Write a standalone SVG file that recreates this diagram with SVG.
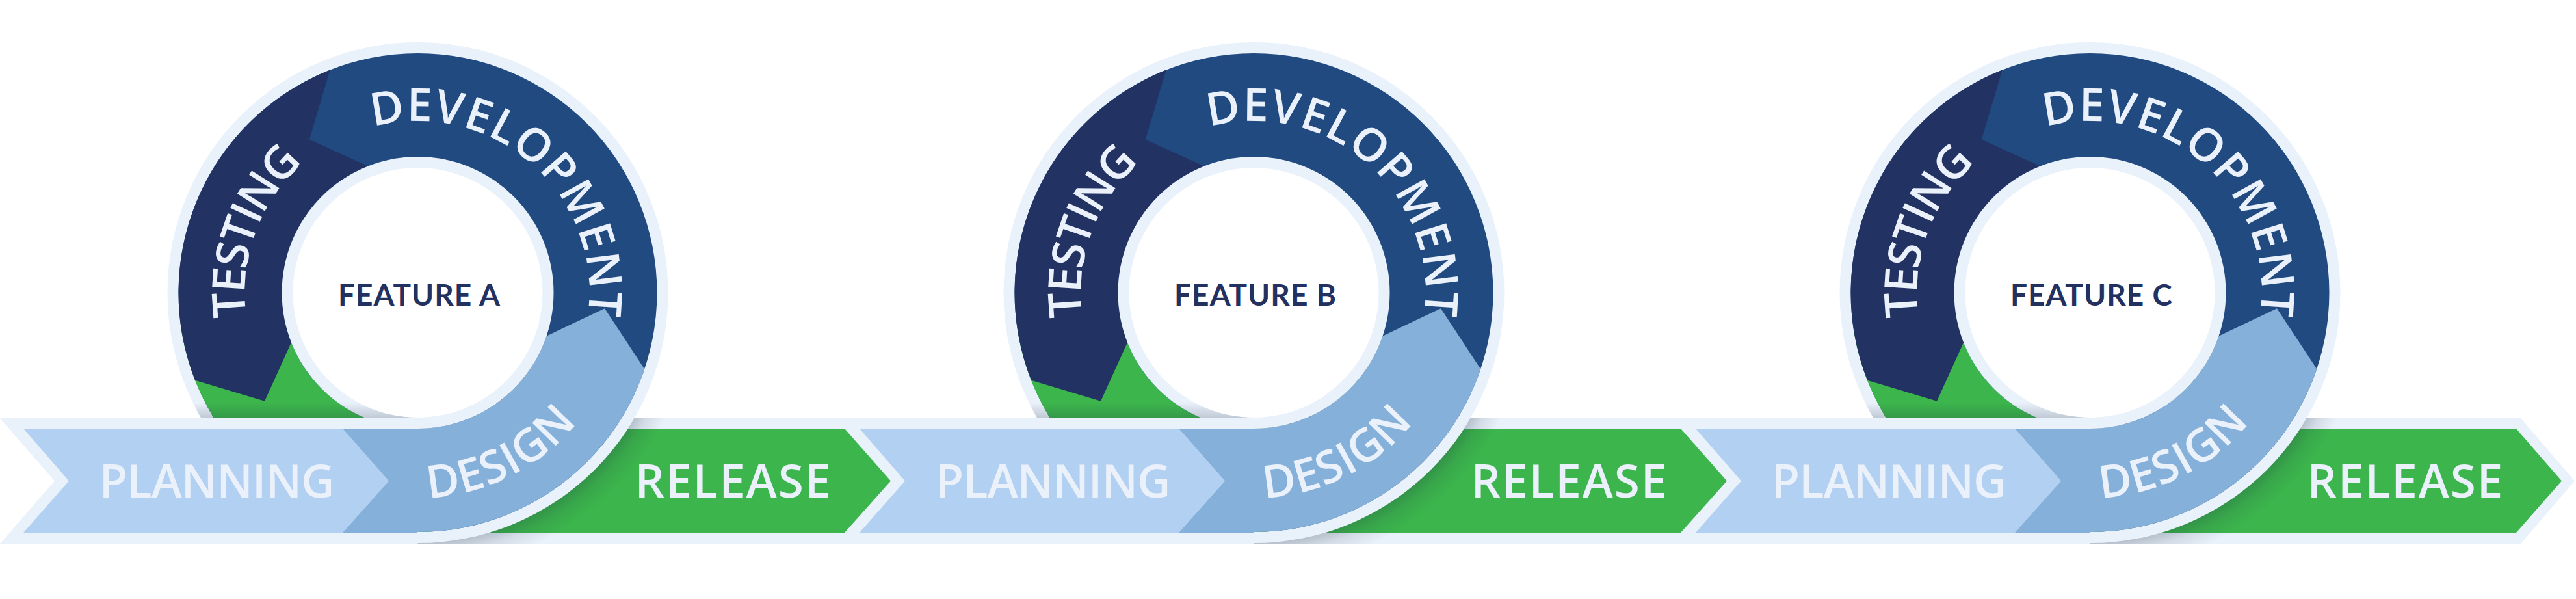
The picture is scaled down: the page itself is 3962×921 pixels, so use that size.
<svg xmlns="http://www.w3.org/2000/svg" xmlns:xlink="http://www.w3.org/1999/xlink" width="3962" height="921" viewBox="0 0 3962 921">
<style>
.border{fill:#E9F1FA}
.planning{fill:#B2D0F2}
.design{fill:#84B0DA}
.release{fill:#3CB54C}
.band-lbl{font-family:'Open Sans','Liberation Sans',sans-serif;font-weight:600;font-size:71px;fill:#EAF1FA}
.ring-lbl{font-family:'Open Sans','Liberation Sans',sans-serif;font-weight:600;font-size:70px;fill:#EAF1FA}
.feat{font-family:Lato,'Open Sans','Liberation Sans',sans-serif;font-weight:700;font-size:46px;fill:#22315F}
</style>
<defs>
  <g id="ring-shapes">
    <circle r="385" fill="#E9F1FA"/>
    <circle r="368" fill="#214A80"/>
    <path fill="#3CB54C" d="M 32.07 366.60 A 368 368 0 0 1 -362.41 63.90 L -205.83 36.29 A 209 209 0 0 0 18.22 208.20 Z"/>
    <path fill="#223263" d="M -342.39 134.87 A 368 368 0 0 1 -134.87 -342.39 L -166.72 -235.45 L -76.60 -194.45 A 209 209 0 0 0 -194.46 76.60 L -235.46 166.71 Z"/>
    <path fill="#84B0DA" d="M 348.79 117.39 A 368 368 0 0 1 -63.90 362.41 L -36.29 205.83 A 209 209 0 0 0 198.09 66.67 L 287.49 24.14 Z"/>
    <circle r="209" fill="#E9F1FA"/>
    <circle r="192" fill="#FFFFFF"/>
  </g>
  <clipPath id="ringClip" clipPathUnits="userSpaceOnUse">
    <rect x="-420.5" y="-420" width="840" height="613"/>
    <rect x="-0.5" y="-420" width="420" height="840"/>
  </clipPath>
  <clipPath id="annulusClip" clipPathUnits="userSpaceOnUse">
    <path clip-rule="evenodd" d="M -385 0 A 385 385 0 1 0 385 0 A 385 385 0 1 0 -385 0 Z M -192 0 A 192 192 0 1 0 192 0 A 192 192 0 1 0 -192 0 Z"/>
  </clipPath>
  <radialGradient id="ringShadow" gradientUnits="userSpaceOnUse" cx="0" cy="0" r="428">
    <stop offset="0.885" stop-color="#15283d" stop-opacity="0"/>
    <stop offset="0.893" stop-color="#15283d" stop-opacity="0.26"/>
    <stop offset="0.94" stop-color="#15283d" stop-opacity="0.1"/>
    <stop offset="1" stop-color="#15283d" stop-opacity="0"/>
  </radialGradient>
  <linearGradient id="bandShadow" x1="0" y1="0" x2="0" y2="1">
    <stop offset="0" stop-color="#15283d" stop-opacity="0"/>
    <stop offset="1" stop-color="#15283d" stop-opacity="0.2"/>
  </linearGradient>
  <path id="testingPath" d="M -203.8 171.0 A 266 266 0 0 1 -46.2 -262.0"/>
  <path id="devPath" d="M -145.7 -220.2 A 264 264 0 0 1 236.3 117.8"/>
  <path id="designPath" d="M -123.5 290.9 A 316 316 0 0 0 307.9 71.1"/>
</defs>

<g id="band">
  <path class="border" d="M0 643 L3877 643 L3960 739.5 L3877 836 L0 836 L84 739.5 Z"/>
</g>

<g id="stages">
  <g id="planning-a">
    <path class="planning" d="M36 659 L527 659 L598 739.5 L527 819 L36 819 L106 739.5 Z"/>
    <text class="band-lbl" x="333.5" y="765" text-anchor="middle" textLength="362" lengthAdjust="spacing">PLANNING</text>
  </g>
  <g id="design-band-a">
    <path class="design" d="M527 659 L700 659 L700 819 L527 819 L598 739.5 Z"/>
  </g>
  <g id="release-a">
    <path class="release" d="M700 659 L1299 659 L1370 739.5 L1299 819 L700 819 Z"/>
    <rect transform="translate(642.5 450)" x="0" y="193" width="460" height="193" fill="url(#ringShadow)"/>
    <text class="band-lbl" x="1127" y="765" text-anchor="middle" textLength="301" lengthAdjust="spacing">RELEASE</text>
  </g>

  <g id="planning-b">
    <path class="planning" d="M1322 659 L1813 659 L1884 739.5 L1813 819 L1322 819 L1392 739.5 Z"/>
    <text class="band-lbl" x="1619.5" y="765" text-anchor="middle" textLength="362" lengthAdjust="spacing">PLANNING</text>
  </g>
  <g id="design-band-b">
    <path class="design" d="M1813 659 L1986 659 L1986 819 L1813 819 L1884 739.5 Z"/>
  </g>
  <g id="release-b">
    <path class="release" d="M1986 659 L2585 659 L2656 739.5 L2585 819 L1986 819 Z"/>
    <rect transform="translate(1928.5 450)" x="0" y="193" width="460" height="193" fill="url(#ringShadow)"/>
    <text class="band-lbl" x="2413" y="765" text-anchor="middle" textLength="301" lengthAdjust="spacing">RELEASE</text>
  </g>

  <g id="planning-c">
    <path class="planning" d="M2608 659 L3099 659 L3170 739.5 L3099 819 L2608 819 L2678 739.5 Z"/>
    <text class="band-lbl" x="2905.5" y="765" text-anchor="middle" textLength="362" lengthAdjust="spacing">PLANNING</text>
  </g>
  <g id="design-band-c">
    <path class="design" d="M3099 659 L3272 659 L3272 819 L3099 819 L3170 739.5 Z"/>
  </g>
  <g id="release-c">
    <path class="release" d="M3272 659 L3870 659 L3940 739.5 L3870 819 L3272 819 Z"/>
    <rect transform="translate(3214.5 450)" x="0" y="193" width="460" height="193" fill="url(#ringShadow)"/>
    <text class="band-lbl" x="3699" y="765" text-anchor="middle" textLength="301" lengthAdjust="spacing">RELEASE</text>
  </g>
</g>

<g id="cycle-a" transform="translate(642.5 450)">
  <use href="#ring-shapes" xlink:href="#ring-shapes" clip-path="url(#ringClip)"/>
  <rect x="-400" y="169" width="399.5" height="24" fill="url(#bandShadow)" clip-path="url(#annulusClip)"/>
  <text class="ring-lbl" text-anchor="middle" letter-spacing="-3.5"><textPath href="#testingPath" xlink:href="#testingPath" startOffset="50%">TESTING</textPath></text>
  <text class="ring-lbl" text-anchor="middle" letter-spacing="1.3"><textPath href="#devPath" xlink:href="#devPath" startOffset="50%">DEVELOPMENT</textPath></text>
  <text class="ring-lbl" text-anchor="middle" letter-spacing="1.5"><textPath href="#designPath" xlink:href="#designPath" startOffset="50%">DESIGN</textPath></text>
  <text class="feat" x="2" y="20" text-anchor="middle" textLength="249" lengthAdjust="spacing">FEATURE A</text>
</g>

<g id="cycle-b" transform="translate(1928.5 450)">
  <use href="#ring-shapes" xlink:href="#ring-shapes" clip-path="url(#ringClip)"/>
  <rect x="-400" y="169" width="399.5" height="24" fill="url(#bandShadow)" clip-path="url(#annulusClip)"/>
  <text class="ring-lbl" text-anchor="middle" letter-spacing="-3.5"><textPath href="#testingPath" xlink:href="#testingPath" startOffset="50%">TESTING</textPath></text>
  <text class="ring-lbl" text-anchor="middle" letter-spacing="1.3"><textPath href="#devPath" xlink:href="#devPath" startOffset="50%">DEVELOPMENT</textPath></text>
  <text class="ring-lbl" text-anchor="middle" letter-spacing="1.5"><textPath href="#designPath" xlink:href="#designPath" startOffset="50%">DESIGN</textPath></text>
  <text class="feat" x="2" y="20" text-anchor="middle" textLength="249" lengthAdjust="spacing">FEATURE B</text>
</g>

<g id="cycle-c" transform="translate(3214.5 450)">
  <use href="#ring-shapes" xlink:href="#ring-shapes" clip-path="url(#ringClip)"/>
  <rect x="-400" y="169" width="399.5" height="24" fill="url(#bandShadow)" clip-path="url(#annulusClip)"/>
  <text class="ring-lbl" text-anchor="middle" letter-spacing="-3.5"><textPath href="#testingPath" xlink:href="#testingPath" startOffset="50%">TESTING</textPath></text>
  <text class="ring-lbl" text-anchor="middle" letter-spacing="1.3"><textPath href="#devPath" xlink:href="#devPath" startOffset="50%">DEVELOPMENT</textPath></text>
  <text class="ring-lbl" text-anchor="middle" letter-spacing="1.5"><textPath href="#designPath" xlink:href="#designPath" startOffset="50%">DESIGN</textPath></text>
  <text class="feat" x="2" y="20" text-anchor="middle" textLength="249" lengthAdjust="spacing">FEATURE C</text>
</g>
</svg>
